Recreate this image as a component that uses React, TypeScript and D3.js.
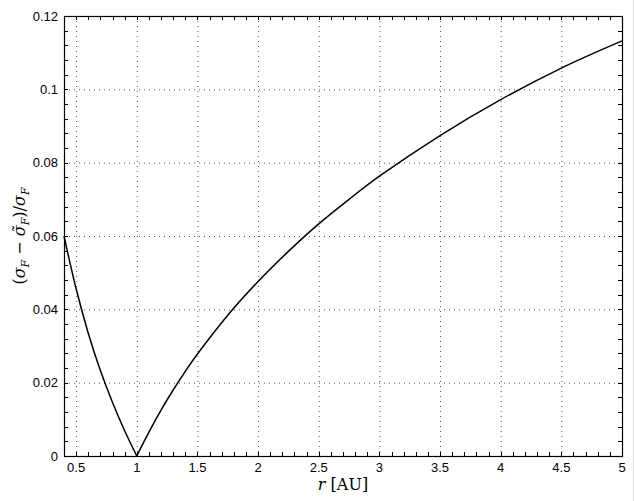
import { useEffect, useRef } from "react";
import * as d3 from "d3";

const WIDTH = 636;
const HEIGHT = 501;
const MARGIN = { top: 16, right: 14, bottom: 45, left: 64 };
const INNER_W = WIDTH - MARGIN.left - MARGIN.right;
const INNER_H = HEIGHT - MARGIN.top - MARGIN.bottom;

// r [AU] and relative difference
const leftR = [0.4, 0.5, 0.6, 0.7, 0.8, 0.9, 1.0];
const leftVals = [0.06, 0.0456, 0.0335, 0.0233, 0.0146, 0.0069, 0];
const rightR = [1.0, 1.1, 1.2, 1.3, 1.4, 1.5, 1.75, 2.0, 2.25, 2.5, 2.75, 3.0, 3.5, 4.0, 4.5, 5.0];
const rightVals = [
  0, 0.0065, 0.0125, 0.018, 0.0231, 0.0278, 0.0384, 0.0476, 0.0558, 0.0633, 0.07,
  0.0763, 0.0874, 0.0972, 0.1058, 0.1132,
];

const xTicks = [0.5, 1, 1.5, 2, 2.5, 3, 3.5, 4, 4.5, 5];
const yTicks = [0, 0.02, 0.04, 0.06, 0.08, 0.1, 0.12];
const X_DOMAIN: [number, number] = [0.4, 5];
const Y_DOMAIN: [number, number] = [0, 0.12];

const TICK_FONT = "'Liberation Sans', Arial, sans-serif";
const MATH_FONT = "'DejaVu Serif', 'Liberation Serif', serif";

function Chart() {
  const svgRef = useRef<SVGSVGElement>(null);

  useEffect(() => {
    if (!svgRef.current) return;
    const svg = d3.select(svgRef.current);
    svg.selectAll("*").remove();

    const x = d3.scaleLinear().domain(X_DOMAIN).range([0, INNER_W]);
    const y = d3.scaleLinear().domain(Y_DOMAIN).range([INNER_H, 0]);

    svg.append("rect").attr("width", WIDTH).attr("height", HEIGHT).attr("fill", "white");
    svg.append("line")
      .attr("x1", 633.5).attr("x2", 633.5)
      .attr("y1", 0).attr("y2", HEIGHT)
      .attr("stroke", "#e4e4e4");

    const g = svg.append("g").attr("transform", `translate(${MARGIN.left},${MARGIN.top})`);

    // dotted grid
    g.append("g")
      .selectAll("line")
      .data(xTicks.filter((t) => t < X_DOMAIN[1]))
      .join("line")
      .attr("x1", (d) => x(d) + 0.5).attr("x2", (d) => x(d) + 0.5)
      .attr("y1", 0).attr("y2", INNER_H)
      .attr("stroke", "#555")
      .attr("stroke-dasharray", "1,4");
    g.append("g")
      .selectAll("line")
      .data(yTicks.filter((t) => t > Y_DOMAIN[0] && t < Y_DOMAIN[1]))
      .join("line")
      .attr("x1", 0).attr("x2", INNER_W)
      .attr("y1", (d) => y(d) + 0.5).attr("y2", (d) => y(d) + 0.5)
      .attr("stroke", "#555")
      .attr("stroke-dasharray", "1,4");

    // inward ticks on all four sides
    const xMinor = d3.range(0.4, 5.0001, 0.1).map((v) => +v.toFixed(2));
    const yMinor = d3.range(0, 0.12001, 0.004).map((v) => +v.toFixed(3));
    const tickLen = 4;
    const tg = g.append("g").attr("stroke", "black").attr("stroke-width", 1);
    xMinor.forEach((v) => {
      const px = Math.round(x(v)) + 0.5;
      tg.append("line").attr("x1", px).attr("x2", px).attr("y1", INNER_H).attr("y2", INNER_H - tickLen);
      tg.append("line").attr("x1", px).attr("x2", px).attr("y1", 0).attr("y2", tickLen);
    });
    yMinor.forEach((v) => {
      const py = Math.round(y(v)) + 0.5;
      tg.append("line").attr("x1", 0).attr("x2", tickLen).attr("y1", py).attr("y2", py);
      tg.append("line").attr("x1", INNER_W).attr("x2", INNER_W - tickLen).attr("y1", py).attr("y2", py);
    });

    // frame
    g.append("rect")
      .attr("x", 0.5).attr("y", 0.5)
      .attr("width", INNER_W).attr("height", INNER_H)
      .attr("fill", "none")
      .attr("stroke", "black")
      .attr("stroke-width", 1.2);

    // tick labels
    const fmt = d3.format("~g");
    g.append("g")
      .selectAll("text")
      .data(xTicks)
      .join("text")
      .attr("x", (d) => x(d))
      .attr("y", INNER_H + 16)
      .attr("text-anchor", "middle")
      .style("font-family", TICK_FONT)
      .style("font-size", "13px")
      .text((d) => fmt(d));
    g.append("g")
      .selectAll("text")
      .data(yTicks)
      .join("text")
      .attr("x", -6)
      .attr("y", (d) => y(d) + 4.5)
      .attr("text-anchor", "end")
      .style("font-family", TICK_FONT)
      .style("font-size", "13px")
      .text((d) => fmt(d));

    // curve: two branches meeting at the cusp r = 1
    const line = d3
      .line<[number, number]>()
      .x((d) => x(d[0]))
      .y((d) => y(d[1]))
      .curve(d3.curveCatmullRom.alpha(0.5));
    const branches = [
      leftR.map((r, i) => [r, leftVals[i]] as [number, number]),
      rightR.map((r, i) => [r, rightVals[i]] as [number, number]),
    ];
    branches.forEach((b) => {
      g.append("path")
        .datum(b)
        .attr("fill", "none")
        .attr("stroke", "black")
        .attr("stroke-width", 1.5)
        .attr("d", line);
    });

    // x label
    const xl = svg.append("text")
      .attr("x", MARGIN.left + INNER_W / 2)
      .attr("y", 490)
      .attr("text-anchor", "middle")
      .style("font-family", MATH_FONT)
      .style("font-size", "16px");
    xl.append("tspan").style("font-style", "italic").text("r");
    xl.append("tspan").text(" [AU]");

    // y label
    const yl = svg.append("text")
      .attr("transform", `translate(25,${MARGIN.top + INNER_H / 2}) rotate(-90)`)
      .attr("text-anchor", "middle")
      .style("font-family", MATH_FONT)
      .style("font-size", "16px");
    yl.append("tspan").text("(");
    yl.append("tspan").style("font-style", "italic").text("σ");
    yl.append("tspan").style("font-style", "italic").style("font-size", "11px").attr("dy", 4).text("F");
    yl.append("tspan").attr("dy", -4).text(" − ");
    yl.append("tspan").style("font-style", "italic").text("σ̃");
    yl.append("tspan").style("font-style", "italic").style("font-size", "11px").attr("dy", 4).text("F");
    yl.append("tspan").attr("dy", -4).text(")/");
    yl.append("tspan").style("font-style", "italic").text("σ");
    yl.append("tspan").style("font-style", "italic").style("font-size", "11px").attr("dy", 4).text("F");
  }, []);

  return <svg ref={svgRef} width={WIDTH} height={HEIGHT} style={{ display: "block" }} />;
}

export default function App() {
  return (
    <div style={{ position: "absolute", left: 0, top: 0 }}>
      <Chart />
    </div>
  );
}
